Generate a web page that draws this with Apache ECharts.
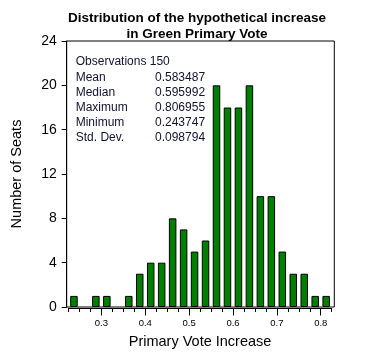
<!DOCTYPE html>
<html>
<head>
<meta charset="utf-8">
<script src="https://cdn.jsdelivr.net/npm/echarts@6/dist/echarts.min.js"></script>
<style>html,body{margin:0;padding:0;background:#fff}#c{width:369px;height:356px}</style>
</head>
<body>
<div id="c"></div>
<script>
// Data
var binCenters = [0.2375, 0.2625, 0.2875, 0.3125, 0.3375, 0.3625, 0.3875, 0.4125, 0.4375, 0.4625, 0.4875, 0.5125,
                  0.5375, 0.5625, 0.5875, 0.6125, 0.6375, 0.6625, 0.6875, 0.7125, 0.7375, 0.7625, 0.7875, 0.8125];
var seatCounts = [1, 0, 1, 1, 0, 1, 3, 4, 4, 8, 7, 5, 6, 20, 18, 18, 20, 10, 10, 5, 3, 3, 1, 1];
var xTickLabels = [0.3, 0.4, 0.5, 0.6, 0.7, 0.8];
var yTickLabels = [0, 4, 8, 12, 16, 20, 24];
var statNames = ['Observations 150', 'Mean', 'Median', 'Maximum', 'Minimum', 'Std. Dev.'];
var statValues = ['', '0.583487', '0.595992', '0.806955', '0.243747', '0.098794'];

var FONT = 'Liberation Sans, Arial, sans-serif';
var chart = echarts.init(document.getElementById('c'), null, {renderer: 'canvas'});

var barData = binCenters.map(function (x, i) { return seatCounts[i] > 0 ? [x, seatCounts[i]] : [x, null]; });

var option = {
  animation: false,
  backgroundColor: '#ffffff',
  textStyle: {fontFamily: FONT},
  title: {
    text: 'Distribution of the hypothetical increase\nin Green Primary Vote',
    left: 192, top: 5, textAlign: 'center',
    textStyle: {fontFamily: FONT, fontSize: 13.5, fontWeight: 'bold', color: '#000', lineHeight: 16}
  },
  grid: [
    {left: 66.7, right: 34.7, top: 41, bottom: 49, containLabel: false,
      show: true, borderColor: '#000', borderWidth: 1, backgroundColor: 'transparent'},
    {left: 68.45, right: 37.3, top: 41, bottom: 48, containLabel: false}
  ],
  xAxis: [
    {gridIndex: 0, type: 'value', min: 0.221, max: 0.831, show: false},
    {gridIndex: 1, type: 'value', position: 'bottom', min: 0.225, max: 0.825, interval: 0.025,
      axisLine: {show: true, onZero: false, lineStyle: {color: '#000', width: 1}},
      axisTick: {show: true, length: 4, lineStyle: {color: '#000'}},
      axisLabel: {show: false}, splitLine: {show: false}},
    {gridIndex: 1, type: 'value', position: 'bottom', min: 0.225, max: 0.825,
      axisLine: {show: false, onZero: false},
      axisTick: {show: true, length: 7.5, customValues: xTickLabels, lineStyle: {color: '#000'}},
      axisLabel: {show: true, customValues: xTickLabels, fontSize: 9.5, color: '#000', margin: 10,
        fontFamily: FONT, formatter: function (v) { return String(Math.round(v * 10) / 10); }},
      splitLine: {show: false},
      name: 'Primary Vote Increase', nameLocation: 'middle', nameGap: 26,
      nameTextStyle: {fontFamily: FONT, fontSize: 14.5, color: '#000'}}
  ],
  yAxis: [
    {gridIndex: 0, type: 'value', min: 0, max: 24, interval: 4, position: 'left',
      axisLine: {show: true, onZero: false, lineStyle: {color: '#000', width: 1}},
      axisTick: {show: true, length: 5, lineStyle: {color: '#000'}},
      axisLabel: {fontSize: 14, color: '#000', margin: 10, fontFamily: FONT},
      splitLine: {show: false},
      name: 'Number of Seats', nameLocation: 'middle', nameGap: 42,
      nameTextStyle: {fontFamily: FONT, fontSize: 14.5, color: '#000'}},
    {gridIndex: 1, type: 'value', min: 0, max: 24, show: false}
  ],
  graphic: [
    {type: 'text', left: 75.7, top: 54.5,
      style: {text: statNames.join('\n'), font: '12px ' + FONT, fill: '#111133', lineHeight: 15.2}},
    {type: 'text', left: 155, top: 54.5,
      style: {text: statValues.join('\n'), font: '12px ' + FONT, fill: '#111133', lineHeight: 15.2}}
  ],
  series: [
    {type: 'bar', xAxisIndex: 0, yAxisIndex: 0, data: barData, barWidth: 7.5,
      itemStyle: {color: '#008000', borderColor: '#000', borderWidth: 1}}
  ]
};
chart.setOption(option);
</script>
</body>
</html>
